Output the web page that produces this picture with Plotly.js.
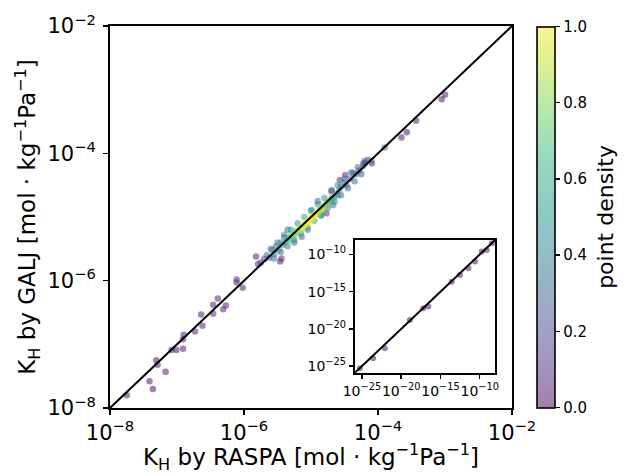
<!DOCTYPE html>
<html>
<head>
<meta charset="utf-8">
<script src="https://cdn.plot.ly/plotly-3.0.1.min.js"></script>
<style>html,body{margin:0;padding:0;background:#fff;}#chart{width:624px;height:474px;}</style>
</head>
<body>
<div id="chart"></div>
<script>
// log10 of K_H by RASPA (x), log10 of K_H by GALJ (y), point density (colour)
const raspaLog10 = [
  -7.75,-7.41,-7.36,-7.31,-7.29,-7.17,-7.08,-7.01,-6.91,-6.91,-6.90,-6.73,-6.64,-6.62,-6.46,-6.46,-6.39,-6.31,-6.27,
  -6.11,-6.11,-6.02,-5.82,-5.79,-5.46,-5.44,-4.77,-4.69,-4.57,-4.49,-4.09,-4.19,-3.90,-3.65,-3.57,-3.43,-3.05,-3.00,
  -25.26,-23.57,-22.08,-18.89,-17.19,-16.55,-13.57,-12.51,-11.45,-10.60,-9.75,-9.11,-8.47,
  -5.75,-5.70,-5.66,-5.62,-5.58,-5.55,-5.52,-5.48,-5.45,-5.40,-5.35,-5.25,-5.14,-5.05,-4.85,-4.90,-4.99,-4.67,
  -4.60,-4.55,-4.50,-4.47,-4.42,-4.37,-4.33,-4.28,-4.22,-4.22,
  -5.60,-5.50,-5.40,-5.30,-5.20,-5.10,-5.00,-4.90,-4.80,-4.70,-4.60,-4.50,-4.40,-4.30,-4.20,-4.15,-4.10,
  -5.55,-5.45,-5.35,-5.25,-5.15,-5.05,-4.95,-4.85,-4.75,-4.65,-4.55,-4.45,-4.35,-4.25,
  -5.42,-5.38,-5.35,-5.32,-5.29,-5.26,-5.23,-5.20,-5.17,-5.14,-5.11,-5.08,-5.05,-5.02,-4.99,-4.96,-4.93,-4.90,
  -4.87,-4.84,-4.81,-4.78,-4.75,-4.72,-4.69,-4.66,-4.63,-4.58,
  -5.12,-5.06,-5.00,-4.94,-4.88,-4.82,-5.18,-5.24,-5.30,-4.76,-4.70
];
const galjLog10 = [
  -7.80,-7.58,-7.70,-7.25,-7.32,-7.43,-7.09,-7.09,-7.07,-6.92,-6.85,-6.80,-6.53,-6.71,-6.38,-6.52,-6.28,-6.45,-6.39,
  -5.98,-6.03,-6.11,-5.62,-5.74,-5.70,-5.65,-4.94,-4.58,-4.42,-4.34,-4.16,-4.15,-3.91,-3.75,-3.67,-3.49,-3.15,-3.08,
  -25.27,-23.93,-22.58,-18.79,-17.22,-17.00,-13.65,-12.75,-11.85,-10.96,-9.62,-9.39,-8.49,
  -5.72,-5.66,-5.60,-5.64,-5.52,-5.58,-5.46,-5.52,-5.40,-5.32,-5.20,-5.40,-5.31,-5.20,-4.98,-4.75,-4.89,-4.81,
  -4.66,-4.52,-4.46,-4.50,-4.40,-4.31,-4.33,-4.27,-4.16,-4.20,
  -5.50,-5.40,-5.28,-5.20,-5.10,-5.00,-4.90,-4.80,-4.70,-4.60,-4.50,-4.40,-4.30,-4.22,-4.12,-4.10,-4.12,
  -5.65,-5.55,-5.46,-5.36,-5.26,-5.16,-5.06,-4.96,-4.86,-4.76,-4.66,-4.55,-4.44,-4.33,
  -5.44,-5.40,-5.33,-5.36,-5.28,-5.30,-5.22,-5.25,-5.16,-5.19,-5.11,-5.13,-5.06,-5.07,-5.00,-5.01,-4.94,-4.95,
  -4.88,-4.89,-4.82,-4.82,-4.76,-4.76,-4.70,-4.70,-4.64,-4.58,
  -5.15,-5.09,-5.03,-4.97,-4.91,-4.85,-5.20,-5.26,-5.32,-4.79,-4.73
];
const pointDensity = [
  0.02,0.02,0.02,0.03,0.03,0.02,0.03,0.03,0.03,0.04,0.03,0.04,0.04,0.04,0.05,0.05,0.04,0.04,0.05,
  0.06,0.08,0.05,0.05,0.10,0.05,0.06,0.06,0.06,0.08,0.07,0.10,0.20,0.30,0.03,0.03,0.03,0.02,0.02,
  0.01,0.01,0.01,0.01,0.01,0.01,0.01,0.01,0.01,0.01,0.01,0.01,0.01,
  0.15,0.20,0.30,0.25,0.35,0.40,0.30,0.45,0.50,0.35,0.30,0.30,0.25,0.30,0.30,0.30,0.45,0.30,
  0.40,0.40,0.35,0.30,0.30,0.25,0.30,0.25,0.20,0.30,
  0.35,0.40,0.45,0.50,0.50,0.50,0.50,0.45,0.45,0.40,0.40,0.35,0.30,0.30,0.25,0.30,0.35,
  0.30,0.35,0.40,0.45,0.50,0.55,0.55,0.50,0.45,0.40,0.35,0.30,0.30,0.25,
  0.55,0.60,0.60,0.65,0.70,0.72,0.75,0.80,0.85,0.88,0.92,0.95,0.97,1.00,0.98,0.96,0.93,0.90,
  0.86,0.82,0.78,0.72,0.68,0.62,0.58,0.55,0.52,0.50,
  1.00,1.00,0.99,0.97,0.93,0.88,0.95,0.85,0.75,0.80,0.70
];
const mainTickVals = [1e-8, 1e-6, 1e-4, 1e-2];
const mainTickText = ['10<sup>−8</sup>', '10<sup>−6</sup>', '10<sup>−4</sup>', '10<sup>−2</sup>'];
const insetTickVals = [1e-25, 1e-20, 1e-15, 1e-10];
const insetTickText = ['10<sup>−25</sup>', '10<sup>−20</sup>', '10<sup>−15</sup>', '10<sup>−10</sup>'];
const parityMain = [1e-8, 1e-2];
const parityInset = [1e-27, 1e-7];
const cbTickVals = [0, 0.2, 0.4, 0.6, 0.8, 1.0];

// draw low density first, high density on top
const order = pointDensity.map((d, i) => i).sort((a, b) => pointDensity[a] - pointDensity[b]);
const xs = order.map(i => Math.pow(10, raspaLog10[i]));
const ys = order.map(i => Math.pow(10, galjLog10[i]));
const cs = order.map(i => pointDensity[i]);

const viridis = [
  [0,'#440154'],[0.0627,'#48186a'],[0.1255,'#472d7b'],[0.1882,'#424086'],[0.2510,'#3b528b'],
  [0.3137,'#33638d'],[0.3765,'#2c728e'],[0.4392,'#26828e'],[0.5020,'#21918c'],[0.5647,'#1fa088'],
  [0.6275,'#28ae80'],[0.6902,'#3fbc73'],[0.7529,'#5ec962'],[0.8157,'#84d44b'],[0.8784,'#addc30'],
  [0.9412,'#d8e219'],[1,'#fde725']
];
const alpha = 0.5;
const cscale = viridis.map(([s, h]) => {
  const r = parseInt(h.slice(1,3),16), g = parseInt(h.slice(3,5),16), b = parseInt(h.slice(5,7),16);
  return [s, `rgba(${r},${g},${b},${alpha})`];
});

const FONT = 'DejaVu Sans, sans-serif';
const title = (t) => `K<sub>H</sub> by ${t} [mol · kg<sup>−1</sup>Pa<sup>−1</sup>]`;

const traces = [
  {
    type: 'scatter', mode: 'markers', x: xs, y: ys, xaxis: 'x', yaxis: 'y',
    marker: {
      size: 6.5, color: cs, colorscale: cscale, cmin: 0, cmax: 1, line: {width: 0},
      showscale: true,
      colorbar: {
        x: 1.0622, xanchor: 'left', xpad: 0, ypad: 0,
        y: 0.5, yanchor: 'middle', len: 381, lenmode: 'pixels',
        thickness: 18, thicknessmode: 'pixels',
        outlinewidth: 1.6, outlinecolor: '#000',
        ticks: 'outside', ticklen: 5, tickwidth: 1.4, tickcolor: '#000',
        tickvals: cbTickVals, tickformat: '.1f',
        tickfont: {family: FONT, size: 15, color: '#000'}
      }
    },
    hoverinfo: 'x+y', showlegend: false
  },
  {
    type: 'scatter', mode: 'lines', x: parityMain, y: parityMain, xaxis: 'x', yaxis: 'y',
    line: {color: '#000', width: 2}, showlegend: false, hoverinfo: 'skip'
  },
  {
    type: 'scatter', mode: 'markers', x: xs, y: ys, xaxis: 'x2', yaxis: 'y2',
    marker: {size: 6, color: cs, colorscale: cscale, cmin: 0, cmax: 1, line: {width: 0}, showscale: false},
    showlegend: false, hoverinfo: 'x+y'
  },
  {
    type: 'scatter', mode: 'lines', x: parityInset, y: parityInset, xaxis: 'x2', yaxis: 'y2',
    line: {color: '#000', width: 2}, showlegend: false, hoverinfo: 'skip'
  }
];

const axisCommon = {
  type: 'log', showgrid: false, zeroline: false,
  showline: true, linecolor: '#000', linewidth: 2, mirror: true,
  ticks: 'outside', tickcolor: '#000', tickwidth: 1.4
};

const layout = {
  width: 624, height: 474,
  margin: {l: 110, r: 112, t: 26, b: 66, pad: 0},
  paper_bgcolor: '#fff', plot_bgcolor: '#fff',
  font: {family: FONT, color: '#000'},
  showlegend: false,
  xaxis: Object.assign({}, axisCommon, {
    domain: [0, 1], anchor: 'y', range: [-8, -2], ticklen: 5, tickangle: 0,
    tickvals: mainTickVals, ticktext: mainTickText,
    tickfont: {family: FONT, size: 21, color: '#000'},
    title: {text: title('RASPA'), font: {family: FONT, size: 23, color: '#000'}, standoff: 3}
  }),
  yaxis: Object.assign({}, axisCommon, {
    domain: [0, 1], anchor: 'x', range: [-8, -2], ticklen: 5, ticklabelstandoff: 3,
    tickvals: mainTickVals, ticktext: mainTickText,
    tickfont: {family: FONT, size: 21, color: '#000'},
    title: {text: title('GALJ'), font: {family: FONT, size: 23, color: '#000'}, standoff: 5}
  }),
  xaxis2: Object.assign({}, axisCommon, {
    domain: [0.609, 0.958], anchor: 'y2', range: [-25.9, -8.05], ticklen: 4, tickangle: 0,
    tickvals: insetTickVals, ticktext: insetTickText,
    tickfont: {family: FONT, size: 14, color: '#000'}
  }),
  yaxis2: Object.assign({}, axisCommon, {
    domain: [0.092, 0.44], anchor: 'x2', range: [-25.9, -8.05], ticklen: 4,
    tickvals: insetTickVals, ticktext: insetTickText,
    tickfont: {family: FONT, size: 14, color: '#000'}
  }),
  annotations: [{
    text: 'point density', xref: 'paper', yref: 'paper', x: 1.231, y: 0.5,
    xanchor: 'center', yanchor: 'middle', textangle: -90, showarrow: false,
    font: {family: FONT, size: 22, color: '#000'}
  }]
};

Plotly.newPlot('chart', traces, layout, {displayModeBar: false, staticPlot: true});
</script>
</body>
</html>
